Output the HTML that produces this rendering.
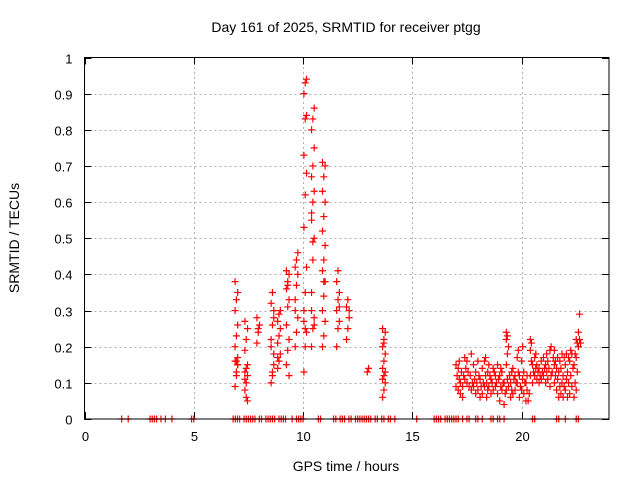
<!DOCTYPE html>
<html><head><meta charset="utf-8"><style>
body{margin:0;background:#fff}
svg{display:block;font-family:"Liberation Sans",sans-serif}
</style></head><body>
<svg id="chart" width="640" height="480" viewBox="0 0 640 480" xmlns="http://www.w3.org/2000/svg">
<rect width="640" height="480" fill="#fff"/>
<text x="346" y="32" font-size="14" text-anchor="middle">Day 161 of 2025, SRMTID for receiver ptgg</text>
<text x="346" y="471" font-size="14" text-anchor="middle">GPS time / hours</text>
<text transform="translate(19,238) rotate(-90)" font-size="14" text-anchor="middle">SRMTID / TECUs</text>
<g id="grid"></g><g id="ticks"></g><g id="marks"></g>
<rect x="84.5" y="57.5" width="524.5" height="361.5" fill="none" stroke="#000" stroke-width="1"/>
</svg>
<script>
const xTicks=[0,5,10,15,20];
const yTicks=[0,0.1,0.2,0.3,0.4,0.5,0.6,0.7,0.8,0.9,1];
const yTickLabels=["0","0.1","0.2","0.3","0.4","0.5","0.6","0.7","0.8","0.9","1"];
const clusterHours=[6.95,7.4,7.95,8.6,8.9,9.3,9.7,10.1,10.45,10.95,11.6,12.05,13.0,13.7];
const clusterValues=[
[0.09,0.12,0.15,0.16,0.16,0.17,0.2,0.23,0.26,0.3,0.33,0.35,0.38,0.13,0.15],
[0.08,0.1,0.12,0.13,0.14,0.15,0.19,0.22,0.25,0.27,0.06,0.05,0.11],
[0.21,0.24,0.26,0.28,0.25],
[0.1,0.13,0.18,0.22,0.26,0.3,0.32,0.35,0.28,0.2,0.12,0.15],
[0.14,0.16,0.18,0.21,0.23,0.25,0.27,0.29,0.3,0.17],
[0.15,0.19,0.22,0.26,0.31,0.33,0.36,0.38,0.4,0.41,0.37,0.12],
[0.2,0.24,0.28,0.33,0.37,0.4,0.42,0.44,0.46,0.3],
[0.13,0.2,0.24,0.3,0.35,0.42,0.53,0.62,0.68,0.73,0.83,0.84,0.9,0.93,0.94,0.27,0.25],
[0.2,0.25,0.28,0.35,0.44,0.5,0.55,0.6,0.63,0.67,0.7,0.75,0.8,0.83,0.86,0.57,0.49,0.26,0.3],
[0.2,0.23,0.27,0.3,0.34,0.38,0.41,0.44,0.48,0.52,0.56,0.6,0.63,0.67,0.7,0.71,0.38],
[0.2,0.25,0.27,0.3,0.33,0.35,0.38,0.41,0.31],
[0.22,0.25,0.28,0.31,0.33,0.3],
[0.13,0.14],
[0.06,0.08,0.1,0.11,0.12,0.13,0.14,0.16,0.18,0.2,0.22,0.24,0.25,0.21]];
const lateHours=[17.0,17.1,17.2,17.3,17.4,17.5,17.6,17.7,17.8,17.9,18.0,18.1,18.2,18.3,18.4,18.5,18.6,18.7,18.8,18.9,19.0,19.1,19.2,19.3,19.4,19.5,19.6,19.7,19.8,19.9,20.0,20.1,20.2,20.3,20.4,20.5,20.6,20.7,20.8,20.9,21.0,21.1,21.2,21.3,21.4,21.5,21.6,21.7,21.8,21.9,22.0,22.1,22.2,22.3,22.4,22.5,22.6,22.65];
const lateValues=[[0.09,0.12,0.15],[0.08,0.11,0.14,0.16],[0.1,0.13,0.07],[0.09,0.12,0.06],[0.11,0.14,0.17],[0.1,0.13,0.16],[0.09,0.12],[0.08,0.1,0.18],[0.09,0.11,0.15],[0.07,0.1,0.13],[0.08,0.12,0.16],[0.06,0.09,0.11],[0.07,0.1,0.14],[0.09,0.12,0.16,0.17],[0.06,0.08,0.1,0.13],[0.09,0.12,0.15],[0.07,0.1,0.11],[0.08,0.13,0.14],[0.09,0.1,0.12],[0.07,0.11,0.15],[0.05,0.09,0.12,0.14],[0.08,0.1,0.13],[0.04,0.07,0.1],[0.08,0.11,0.15,0.18,0.22,0.23,0.24],[0.09,0.12,0.2],[0.06,0.08,0.1,0.13],[0.07,0.11,0.14],[0.08,0.1,0.12],[0.1,0.13,0.17,0.19],[0.06,0.09,0.12],[0.08,0.11,0.16,0.2],[0.07,0.1,0.13],[0.05,0.08,0.1,0.12],[0.05,0.07],[0.12,0.16,0.19,0.21,0.22],[0.1,0.13,0.15],[0.12,0.14,0.17,0.18],[0.11,0.13,0.15],[0.1,0.12,0.14],[0.11,0.13,0.16],[0.12,0.14,0.17],[0.1,0.13,0.15,0.18],[0.11,0.14,0.16],[0.09,0.12,0.19,0.2],[0.13,0.17],[0.1,0.12,0.15,0.16,0.19],[0.08,0.11,0.14,0.17],[0.06,0.09,0.13,0.16],[0.07,0.1,0.14,0.18],[0.06,0.09,0.12,0.17],[0.08,0.11,0.15,0.18],[0.06,0.1,0.13,0.17],[0.07,0.12,0.16,0.19],[0.09,0.14,0.18],[0.06,0.1,0.15,0.18],[0.08,0.13,0.17,0.21,0.22],[0.2,0.22,0.24],[0.29,0.21]];
const zeroHours=[1.7,2.0,3.0,3.1,3.2,3.3,3.5,3.7,4.0,4.9,5.0,6.8,6.9,7.0,7.1,7.3,7.4,7.5,7.6,7.7,7.8,8.0,8.1,8.3,8.4,8.5,8.6,8.7,8.9,9.0,9.1,9.2,9.5,9.7,9.8,9.9,10.0,10.7,10.8,11.4,11.5,11.7,11.8,11.9,12.1,12.2,12.4,12.5,12.6,12.7,12.8,12.9,13.0,13.1,13.3,13.4,13.6,13.7,13.9,14.0,14.2,15.2,16.0,16.1,16.2,16.3,16.5,16.6,16.7,16.8,16.9,17.0,17.1,17.3,17.5,17.6,17.9,18.0,18.2,18.6,18.7,18.9,19.0,19.2,20.5,20.6,21.6,21.7,22.0,22.5,22.6];

const NS="http://www.w3.org/2000/svg";
const X0=84.5,X1=609,Y0=419,Y1=57.5,XMAX=24;
function xs(h){return X0+h/XMAX*(X1-X0);}
function ys(v){return Y0-v*(Y0-Y1);}
function mk(tag,attrs,parent){const e=document.createElementNS(NS,tag);for(const k in attrs)e.setAttribute(k,attrs[k]);parent.appendChild(e);return e;}
const grid=document.getElementById('grid'),ticks=document.getElementById('ticks'),marks=document.getElementById('marks');
yTicks.forEach((v,i)=>{
  const y=Math.round(ys(v))+0.5;
  if(v>0&&v<1){const g=mk('line',{x1:X0,x2:X1,y1:y,y2:y,stroke:'#b0b0b0','stroke-dasharray':'2,3'},grid);
  
  }
  mk('line',{x1:X0,x2:X0+7,y1:y,y2:y,stroke:'#000'},ticks);
  mk('line',{x1:X1-7,x2:X1,y1:y,y2:y,stroke:'#000'},ticks);
  const t=mk('text',{x:X0-12,y:y+5,'font-size':13,'text-anchor':'end'},ticks);
  t.textContent=yTickLabels[i];
  
  
});
xTicks.forEach(h=>{
  const x=Math.round(xs(h))+0.5;
  if(h>0){const g=mk('line',{x1:x,x2:x,y1:Y0,y2:Y1,stroke:'#b0b0b0','stroke-dasharray':'2,3'},grid);
  
  }
  mk('line',{x1:x,x2:x,y1:Y0,y2:Y0-7,stroke:'#000'},ticks);
  mk('line',{x1:x,x2:x,y1:Y1,y2:Y1+7,stroke:'#000'},ticks);
  const t=mk('text',{x:x,y:441,'font-size':13,'text-anchor':'middle'},ticks);
  t.textContent=String(h);
  
  
});
function plus(h,v,color){
  const x=xs(h),y=ys(v);
  const p=mk('path',{d:`M${x-3.5},${y}H${x+3.5}M${x},${y-3.5}V${y+3.5}`,stroke:color,'stroke-width':1.2,fill:'none'},marks);
  
  
}
zeroHours.forEach(h=>plus(h,0,'#f00'));
clusterHours.forEach((h,i)=>clusterValues[i].forEach((v,j)=>plus(h+(j%3-1)*0.06,v,'#f00')));
lateHours.forEach((h,i)=>lateValues[i].forEach((v,j)=>plus(h+(j%2)*0.05,v,'#f00')));
</script>
</body></html>
